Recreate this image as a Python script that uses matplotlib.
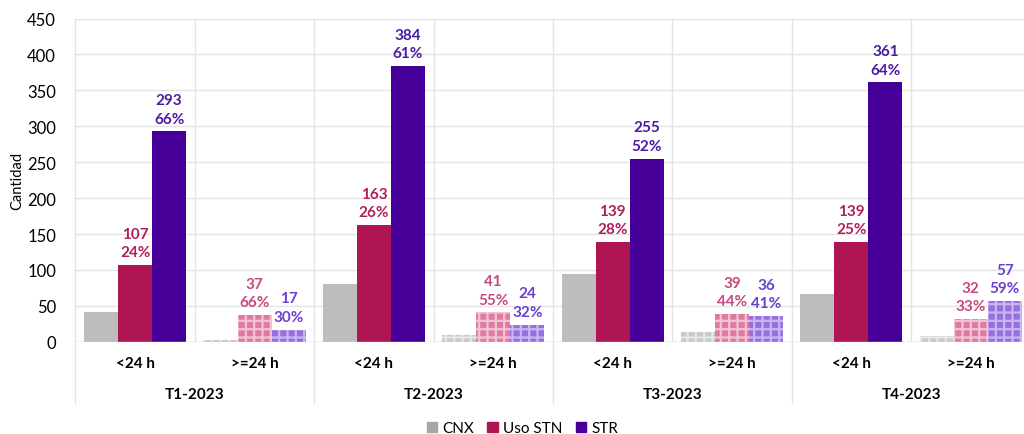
import matplotlib
matplotlib.use('Agg')
import matplotlib.pyplot as plt
from matplotlib.patches import Patch

plt.rcParams['font.family'] = ['Lato', 'DejaVu Sans']
plt.rcParams['hatch.linewidth'] = 1.6

# data
quarters = ['T1-2023', 'T2-2023', 'T3-2023', 'T4-2023']
durations = ['<24 h', '>=24 h']
cnx = [42, 2, 80, 10, 95, 13, 66, 8]
uso_stn = [107, 37, 163, 41, 139, 39, 139, 32]
stn_pct = ['24%', '66%', '26%', '55%', '28%', '44%', '25%', '33%']
strr = [293, 17, 384, 24, 255, 36, 361, 57]
str_pct = ['66%', '30%', '61%', '32%', '52%', '41%', '64%', '59%']

fig = plt.figure(figsize=(10.24, 4.35), dpi=100, facecolor='white')
ax = fig.add_axes([0.0737, 0.212, 0.9326, 0.743])

grid_c = '#e4e4e4'
w = 0.285
n = len(cnx)
for i in range(n):
    x = i + 0.5
    long_ = (i % 2 == 1)
    if long_:
        # lighter checkered bars for >=24 h
        ax.bar(x - w, cnx[i], w, color='#c9c9c9', edgecolor='#e6e6e6', hatch='++', linewidth=0)
        ax.bar(x, uso_stn[i], w, color='#e07aa3', edgecolor='#f2c2d5', hatch='++', linewidth=0)
        ax.bar(x + w, strr[i], w, color='#9670e0', edgecolor='#c9b5f0', hatch='++', linewidth=0)
        c_stn, c_str = '#c44a80', '#6b3fd0'
    else:
        ax.bar(x - w, cnx[i], w, color='#bdbdbd', linewidth=0)
        ax.bar(x, uso_stn[i], w, color='#b01553', linewidth=0)
        ax.bar(x + w, strr[i], w, color='#460099', linewidth=0)
        c_stn, c_str = '#b01f5c', '#4b1aa3'
    ax.text(x, uso_stn[i] + 8, f'{uso_stn[i]}\n{stn_pct[i]}', ha='center', va='bottom',
            fontsize=11, fontweight='bold', color=c_stn, linespacing=1.4)
    ax.text(x + w, strr[i] + 8, f'{strr[i]}\n{str_pct[i]}', ha='center', va='bottom',
            fontsize=11, fontweight='bold', color=c_str, linespacing=1.4)

ax.set_xlim(0, n)
ax.set_ylim(0, 450)
ax.set_yticks(range(0, 451, 50))
ax.tick_params(axis='y', length=0, labelsize=12, pad=14)
ax.set_ylabel('Cantidad', fontsize=10.5, labelpad=2)
ax.grid(axis='y', color=grid_c, linewidth=1)
ax.set_axisbelow(True)
for s in ax.spines.values():
    s.set_visible(False)
ax.axhline(0, color='#d0d0d0', linewidth=1)

# vertical separators: short ones inside, long ones between quarters
for k in range(n + 1):
    if k % 2 == 0:
        ax.plot([k, k], [450, -85], color=grid_c, linewidth=1, clip_on=False)
    else:
        ax.axvline(k, color=grid_c, linewidth=1)

ax.set_xticks([i + 0.5 for i in range(n)])
ax.set_xticklabels([durations[i % 2] for i in range(n)], fontsize=11, fontweight='bold')
ax.tick_params(axis='x', length=0, pad=10)
for j, q in enumerate(quarters):
    ax.text(2 * j + 1, -73, q, ha='center', va='center', fontsize=11, fontweight='bold')

handles = [Patch(color='#a6a6a6', label='CNX'),
           Patch(color='#b01553', label='Uso STN'),
           Patch(color='#460099', label='STR')]
fig.legend(handles=handles, loc='lower center', bbox_to_anchor=(0.51, -0.035), ncol=3,
           frameon=False, fontsize=11, handlelength=0.7, handleheight=0.7,
           handletextpad=0.3, columnspacing=0.9)

fig.savefig('out.png', dpi=100, facecolor='white')
